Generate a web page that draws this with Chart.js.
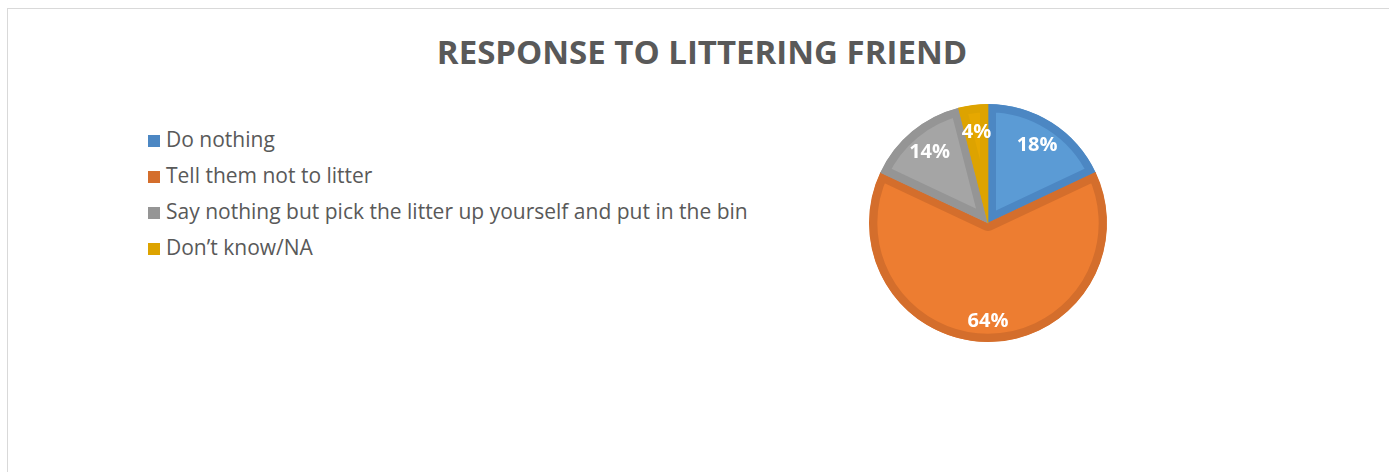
<!DOCTYPE html>
<html>
<head>
<meta charset="utf-8">
<script src="https://cdn.jsdelivr.net/npm/chart.js@4/dist/chart.umd.min.js"></script>
<style>
    body { margin: 0; background: #fff; font-family: "Open Sans", sans-serif; overflow: hidden; }
    #frame { position: absolute; left: 7px; top: 8px; width: 1500px; height: 600px; border-top: 1px solid #d9d9d9; border-left: 1px solid #d9d9d9; }
    #title { position: absolute; left: 0; top: 29px; width: 1404px; text-align: center; color: #595959; font-weight: bold; font-size: 33px; line-height: 46px; }
    #legend { position: absolute; left: 148px; top: 126px; list-style: none; margin: 0; padding: 0; }
    #legend li { height: 36px; line-height: 26px; font-size: 21px; color: #595959; white-space: nowrap; }
    #legend span { display: inline-block; width: 12px; height: 12px; margin-right: 6px; vertical-align: 0px; }
    #wrap { position: absolute; left: 0; top: 0; }
</style>
</head>
<body>
<div id="frame"></div>
<div id="title">RESPONSE TO LITTERING FRIEND</div>
<ul id="legend"></ul>
<div id="wrap"><canvas id="pie_chart" width="1389" height="472"></canvas></div>
<script>
const labels_list = ['Do nothing', 'Tell them not to litter', 'Say nothing but pick the litter up yourself and put in the bin', 'Don\u2019t know/NA']
const values_list = [18, 64, 14, 4]
const fill_colors = ['#5b9bd5', '#ed7d31', '#a5a5a5', '#e6a800']
const edge_colors = ['#4c87c3', '#d46e2c', '#959595', '#dda300']

// legend on the left, swatches use the darker edge colour
const legend = document.getElementById('legend')
labels_list.forEach((name, i) => {
    const li = document.createElement('li')
    const box = document.createElement('span')
    box.style.background = edge_colors[i]
    li.appendChild(box)
    li.appendChild(document.createTextNode(name))
    legend.appendChild(li)
})

// white percent labels inside the slices
const sliceLabels = {
    id: 'sliceLabels',
    afterDatasetsDraw(chart) {
        const ctx = chart.ctx
        const meta = chart.getDatasetMeta(0)
        ctx.save()
        ctx.fillStyle = '#fff'
        ctx.font = 'bold 20px "Open Sans"'
        ctx.textAlign = 'center'
        ctx.textBaseline = 'middle'
        meta.data.forEach((arc, i) => {
            const p = arc.getProps(['x', 'y', 'startAngle', 'endAngle', 'outerRadius'], true)
            const mid = (p.startAngle + p.endAngle) / 2
            const r = p.outerRadius * (values_list[i] > 50 ? 0.83 : 0.77)
            ctx.fillText(values_list[i] + '%', p.x + Math.cos(mid) * r, p.y + Math.sin(mid) * r)
        })
        ctx.restore()
    }
}

const ctx1 = document.getElementById('pie_chart').getContext('2d')
const chart1 = new Chart(ctx1, {
    type: 'pie',
    data: {
        labels: labels_list,
        datasets: [{
            data: values_list,
            backgroundColor: fill_colors,
            borderColor: edge_colors,
            borderWidth: 8,
            borderAlign: 'inner'
        }]
    },
    options: {
        responsive: false,
        animation: false,
        layout: {
            padding: { left: 869, right: 282, top: 104, bottom: 130 }
        },
        plugins: {
            legend: { display: false },
            tooltip: { enabled: false }
        }
    },
    plugins: [sliceLabels]
})
</script>
</body>
</html>
